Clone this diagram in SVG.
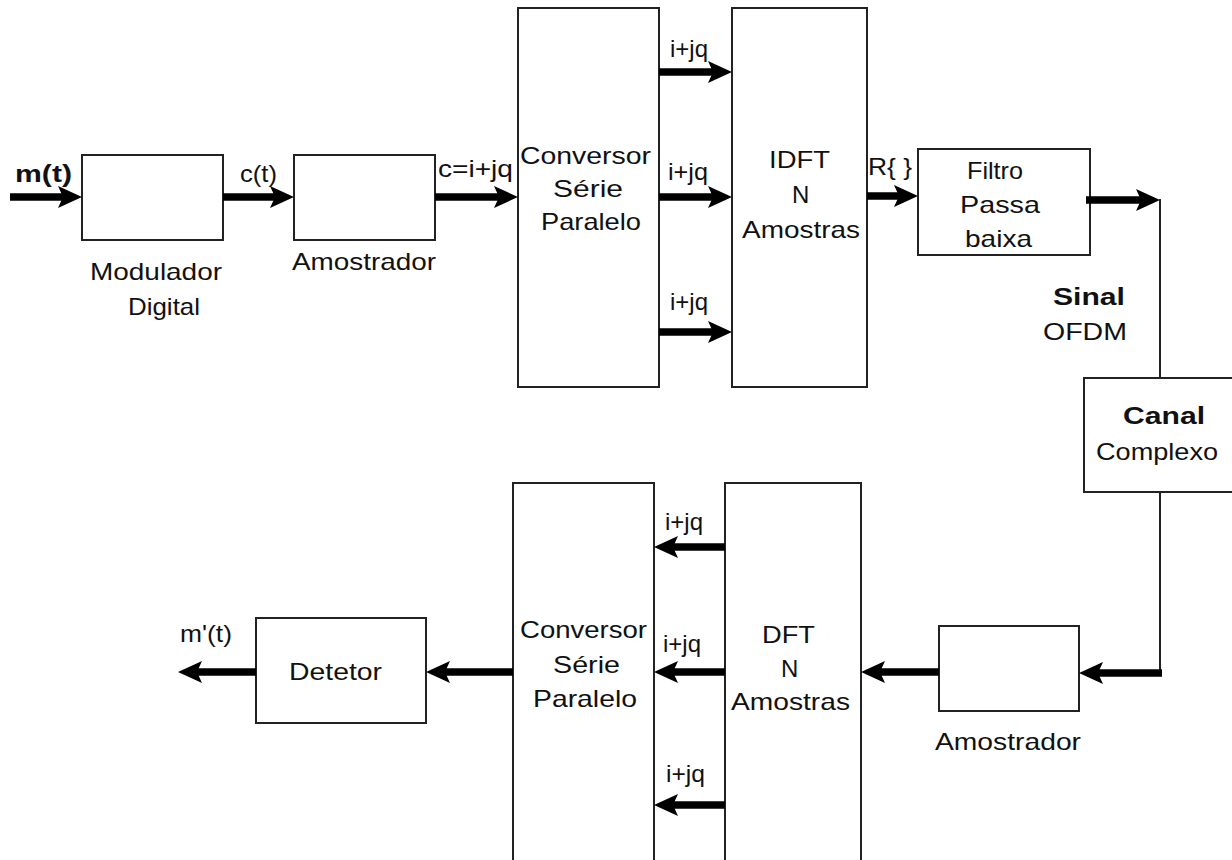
<svg xmlns="http://www.w3.org/2000/svg" width="1232" height="860" viewBox="0 0 1232 860">
<style>
.box{fill:#fff;stroke:#222;stroke-width:2}
.t{font-family:"Liberation Sans",Arial,sans-serif;font-size:24px;fill:#111}
.b{font-weight:bold}
.arr{fill:none;stroke:#000;stroke-width:7.5;marker-end:url(#ah)}
.ln{fill:none;stroke:#222;stroke-width:2}
</style>
<defs>
<marker id="ah" markerUnits="userSpaceOnUse" markerWidth="26" markerHeight="24" refX="8" refY="11" orient="auto" overflow="visible">
<path d="M0,0 L24,11 L0,22 L5,11 z" fill="#000"/>
</marker>
</defs>
<rect width="1232" height="860" fill="#fff"/>

<g id="modulador">
<rect class="box" x="82" y="155" width="141" height="85"/>
<text class="t" x="90" y="280" textLength="132" lengthAdjust="spacingAndGlyphs">Modulador</text>
<text class="t" x="128" y="315" textLength="72" lengthAdjust="spacingAndGlyphs">Digital</text>
</g>
<g id="amostrador1">
<rect class="box" x="294" y="155" width="141" height="85"/>
<text class="t" x="292" y="270" textLength="144" lengthAdjust="spacingAndGlyphs">Amostrador</text>
</g>
<g id="conversor1">
<rect class="box" x="518" y="8" width="141" height="379"/>
<text class="t" x="520" y="164" textLength="131" lengthAdjust="spacingAndGlyphs">Conversor</text>
<text class="t" x="553" y="197" textLength="70" lengthAdjust="spacingAndGlyphs">Série</text>
<text class="t" x="541" y="230" textLength="100" lengthAdjust="spacingAndGlyphs">Paralelo</text>
</g>
<g id="idft">
<rect class="box" x="732" y="8" width="135" height="379"/>
<text class="t" x="769" y="168" textLength="61" lengthAdjust="spacingAndGlyphs">IDFT</text>
<text class="t" x="792" y="203">N</text>
<text class="t" x="742" y="238" textLength="118" lengthAdjust="spacingAndGlyphs">Amostras</text>
</g>
<g id="filtro">
<rect class="box" x="918" y="149" width="172" height="106"/>
<text class="t" x="967" y="179" textLength="56" lengthAdjust="spacingAndGlyphs">Filtro</text>
<text class="t" x="960" y="213" textLength="80" lengthAdjust="spacingAndGlyphs">Passa</text>
<text class="t" x="965" y="247" textLength="67" lengthAdjust="spacingAndGlyphs">baixa</text>
</g>
<g id="canal">
<rect class="box" x="1084" y="378" width="150" height="114"/>
<text class="t b" x="1123" y="424" textLength="82" lengthAdjust="spacingAndGlyphs">Canal</text>
<text class="t" x="1096" y="460" textLength="122" lengthAdjust="spacingAndGlyphs">Complexo</text>
</g>
<g id="amostrador2">
<rect class="box" x="939" y="626" width="140" height="85"/>
<text class="t" x="935" y="750" textLength="146" lengthAdjust="spacingAndGlyphs">Amostrador</text>
</g>
<g id="dft">
<rect class="box" x="725" y="483" width="136" height="400"/>
<text class="t" x="762" y="643" textLength="53" lengthAdjust="spacingAndGlyphs">DFT</text>
<text class="t" x="781" y="677">N</text>
<text class="t" x="731" y="710" textLength="119" lengthAdjust="spacingAndGlyphs">Amostras</text>
</g>
<g id="conversor2">
<rect class="box" x="513" y="483" width="141" height="400"/>
<text class="t" x="520" y="638" textLength="127" lengthAdjust="spacingAndGlyphs">Conversor</text>
<text class="t" x="553" y="673" textLength="67" lengthAdjust="spacingAndGlyphs">Série</text>
<text class="t" x="533" y="707" textLength="104" lengthAdjust="spacingAndGlyphs">Paralelo</text>
</g>
<g id="detetor">
<rect class="box" x="256" y="618" width="170" height="105"/>
<text class="t" x="289" y="680" textLength="93" lengthAdjust="spacingAndGlyphs">Detetor</text>
</g>

<g id="connectors">
<path class="arr" d="M10,197 H66"/>
<path class="arr" d="M223,197 H278"/>
<path class="arr" d="M435,197 H502"/>
<path class="arr" d="M659,72 H716"/>
<path class="arr" d="M659,197 H716"/>
<path class="arr" d="M659,332 H716"/>
<path class="arr" d="M867,196 H902"/>
<path class="arr" d="M1086,200 H1144"/>
<path class="ln" d="M1160,199 V378"/>
<path class="ln" d="M1160,492 V673"/>
<path class="arr" d="M1162,673 H1095"/>
<path class="arr" d="M939,672 H877"/>
<path class="arr" d="M725,547 H670"/>
<path class="arr" d="M725,672 H670"/>
<path class="arr" d="M725,805 H670"/>
<path class="arr" d="M513,672 H442"/>
<path class="arr" d="M256,672 H194"/>
</g>

<g id="labels">
<text class="t b" x="15" y="182" textLength="57" lengthAdjust="spacingAndGlyphs">m(t)</text>
<text class="t" x="240" y="182" textLength="37" lengthAdjust="spacingAndGlyphs">c(t)</text>
<text class="t" x="438" y="177" textLength="75" lengthAdjust="spacingAndGlyphs">c=i+jq</text>
<text class="t" x="670" y="57" textLength="38" lengthAdjust="spacingAndGlyphs">i+jq</text>
<text class="t" x="668" y="180" textLength="40" lengthAdjust="spacingAndGlyphs">i+jq</text>
<text class="t" x="670" y="310" textLength="38" lengthAdjust="spacingAndGlyphs">i+jq</text>
<text class="t" x="868" y="175" textLength="44" lengthAdjust="spacingAndGlyphs">R{ }</text>
<text class="t b" x="1053" y="305" textLength="72" lengthAdjust="spacingAndGlyphs">Sinal</text>
<text class="t" x="1043" y="340" textLength="84" lengthAdjust="spacingAndGlyphs">OFDM</text>
<text class="t" x="665" y="530" textLength="38" lengthAdjust="spacingAndGlyphs">i+jq</text>
<text class="t" x="663" y="652" textLength="38" lengthAdjust="spacingAndGlyphs">i+jq</text>
<text class="t" x="666" y="782" textLength="39" lengthAdjust="spacingAndGlyphs">i+jq</text>
<text class="t" x="180" y="642" textLength="52" lengthAdjust="spacingAndGlyphs">m'(t)</text>
</g>
</svg>
